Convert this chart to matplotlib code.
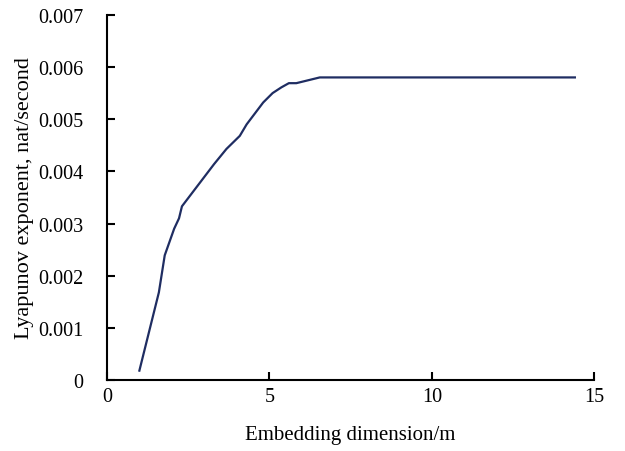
import matplotlib
matplotlib.use("Agg")
import matplotlib.pyplot as plt

# Embedding dimension vs. Lyapunov exponent
dimension = [1.0, 1.6, 1.78, 2.07, 2.22, 2.31, 3.3, 3.68, 4.09, 4.3,
             4.81, 5.1, 5.37, 5.6, 5.83, 6.55, 14.4]
lyapunov = [0.00018, 0.00168, 0.00239, 0.0029, 0.0031, 0.00333, 0.00414,
            0.00443, 0.00468, 0.0049, 0.00532, 0.0055, 0.00561, 0.00569,
            0.00569, 0.0058, 0.0058]
x_ticks = [0, 5, 10, 15]
y_ticks = [0, 0.001, 0.002, 0.003, 0.004, 0.005, 0.006, 0.007]
y_tick_labels = ["0", "0.001", "0.002", "0.003", "0.004", "0.005", "0.006", "0.007"]

LINE_COLOR = "#1F2D62"

plt.rcParams["font.family"] = ["Liberation Serif", "DejaVu Serif"]
plt.rcParams["font.size"] = 14.5

fig = plt.figure(figsize=(6.25, 4.52), dpi=100)
ax = fig.add_axes([0.171, 0.157, 0.78, 0.808])

ax.plot(dimension, lyapunov, color=LINE_COLOR, linewidth=1.6)

ax.set_xlim(0, 15)
ax.set_ylim(0, 0.007)
ax.set_xticks(x_ticks)
ax.set_yticks(y_ticks)
ax.set_yticklabels(y_tick_labels)

for side in ("top", "right"):
    ax.spines[side].set_visible(False)
for side in ("left", "bottom"):
    ax.spines[side].set_linewidth(1.5)
    ax.spines[side].set_color("black")

ax.tick_params(direction="in", length=6, width=1.5)
ax.tick_params(axis="y", pad=17)
ax.tick_params(axis="x", pad=5)

ax.set_xlabel("Embedding dimension/m", fontsize=15, labelpad=14)
ax.set_ylabel("Lyapunov exponent, nat/second", fontsize=16, labelpad=3)

fig.savefig("out.png", dpi=100)
